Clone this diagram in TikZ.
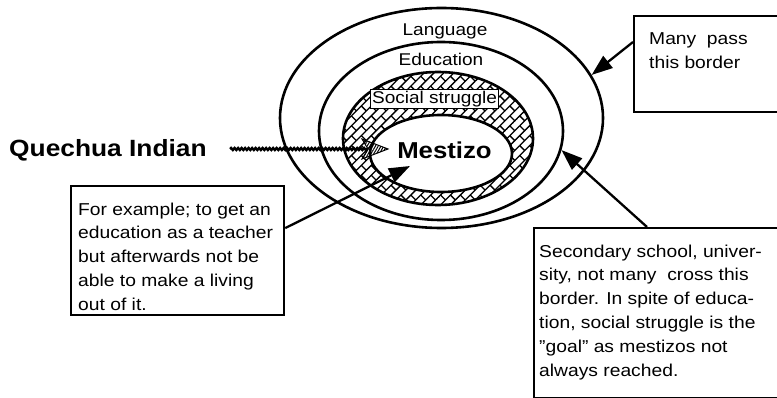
\documentclass[tikz,border=0pt]{standalone}
\usepackage{fontspec}
\setmainfont{Liberation Sans}[FakeStretch=1.12]
\usetikzlibrary{shapes.geometric,arrows.meta,decorations.pathmorphing,patterns.meta,calc}

% diagonal brick texture for the social-struggle ring
\tikzdeclarepattern{
  name=slantbricks,
  type=uncolored,
  bounding box={(-1pt,-1pt) and (15pt,15pt)},
  tile size={(14pt,14pt)},
  tile transformation={rotate=45},
  code={
    \draw[line width=1.3pt] (0,0)--(14pt,0) (0,7pt)--(14pt,7pt)
      (0,0)--(0,7pt) (7pt,7pt)--(7pt,14pt);
  }
}

\begin{document}
\begin{tikzpicture}[x=1pt,y=-1pt,
  ring/.style={draw, line width=2.6pt, ellipse, inner sep=0pt},
  callout/.style={draw, line width=2.2pt, rectangle, inner sep=0pt, anchor=north west},
  boxtext/.style={font=\fontsize{17.2}{23.8}\selectfont, align=left, inner sep=0pt, anchor=north west},
  ringlabel/.style={font=\fontsize{17}{20}\selectfont, inner sep=0pt, anchor=base},
  pointer/.style={line width=2.3pt, -{Triangle[length=21pt,width=15pt]}}
]
\clip (0,0) rectangle (777,398);
\fill[white] (0,0) rectangle (777,398);

% brick-filled ring between the two innermost borders
\fill[pattern=slantbricks, pattern color=black, even odd rule]
  (438,138.5) ellipse [x radius=95pt, y radius=66.5pt]
  (441,153.5) ellipse [x radius=71pt, y radius=38.5pt];

% nested borders
\node[ring, minimum width=323pt, minimum height=220pt] (lang) at (441.5,118) {};
\node[ring, minimum width=244pt, minimum height=178pt] (edu) at (441,131) {};
\node[ring, minimum width=190pt, minimum height=133pt] (soc) at (438,138.5) {};
\node[ring, minimum width=142pt, minimum height=77pt, fill=white] (mest) at (441,153.5) {};

% labels of the borders
\node[ringlabel] (langlbl) at (445,36) {Language};
\node[ringlabel] (edulbl) at (441,66) {Education};
\node[draw, line width=1.2pt, fill=white, inner sep=1.2pt,
      font=\fontsize{17}{20}\selectfont] (soclbl) at (434.5,99) {Social struggle};
\node[anchor=base, inner sep=0pt, font=\bfseries\fontsize{23}{26}\selectfont] (mestlbl) at (444.5,159) {Mestizo};
\node[anchor=base west, inner sep=0pt, font=\bfseries\fontsize{23.5}{26}\selectfont] (qi) at (9,157) {Quechua Indian};

% wavy path from Quechua Indian into the centre
\coordinate (wstart) at (230,149);
\coordinate (wend) at (368,149);
\draw[line width=2.4pt, decorate, decoration={snake, amplitude=1pt, segment length=3.5pt}] (wstart) -- (wend);
\filldraw[line width=1pt, pattern={Lines[angle=60,distance=2.4pt,line width=1pt]}]
  (388,149) -- (362,139) -- (368,149) -- (362,159) -- cycle;

% callout boxes
\node[callout, minimum width=213pt, minimum height=129pt] (ex) at (70,185) {};
\node[boxtext] (extext) at (78,202.5) {For example; to get an\\education as a teacher\\but afterwards not be\\able to make a living\\out of it.};

\node[callout, minimum width=170pt, minimum height=96pt] (many) at (633,15) {};
\node[boxtext] (manytext) at (649,32.5) {Many\ \ pass\\this border};

\node[callout, minimum width=270pt, minimum height=169.5pt] (sec) at (533,227) {};
\node[boxtext] (sectext) at (539,244.5) {Secondary school, univer-\\sity, not many\ \ cross this\\border. In spite of educa-\\tion, social struggle is the\\”goal” as mestizos not\\always reached.};

% pointers from the boxes to the borders
\coordinate (mtip) at (410,166);
\draw[pointer] ([yshift=22.5pt]ex.east) -- (mtip);
\draw[pointer] ([yshift=-27pt]many.north west) -- (lang.16.5);
\draw[pointer] ([xshift=114pt]sec.north west) -- (edu.-9);
\end{tikzpicture}
\end{document}
